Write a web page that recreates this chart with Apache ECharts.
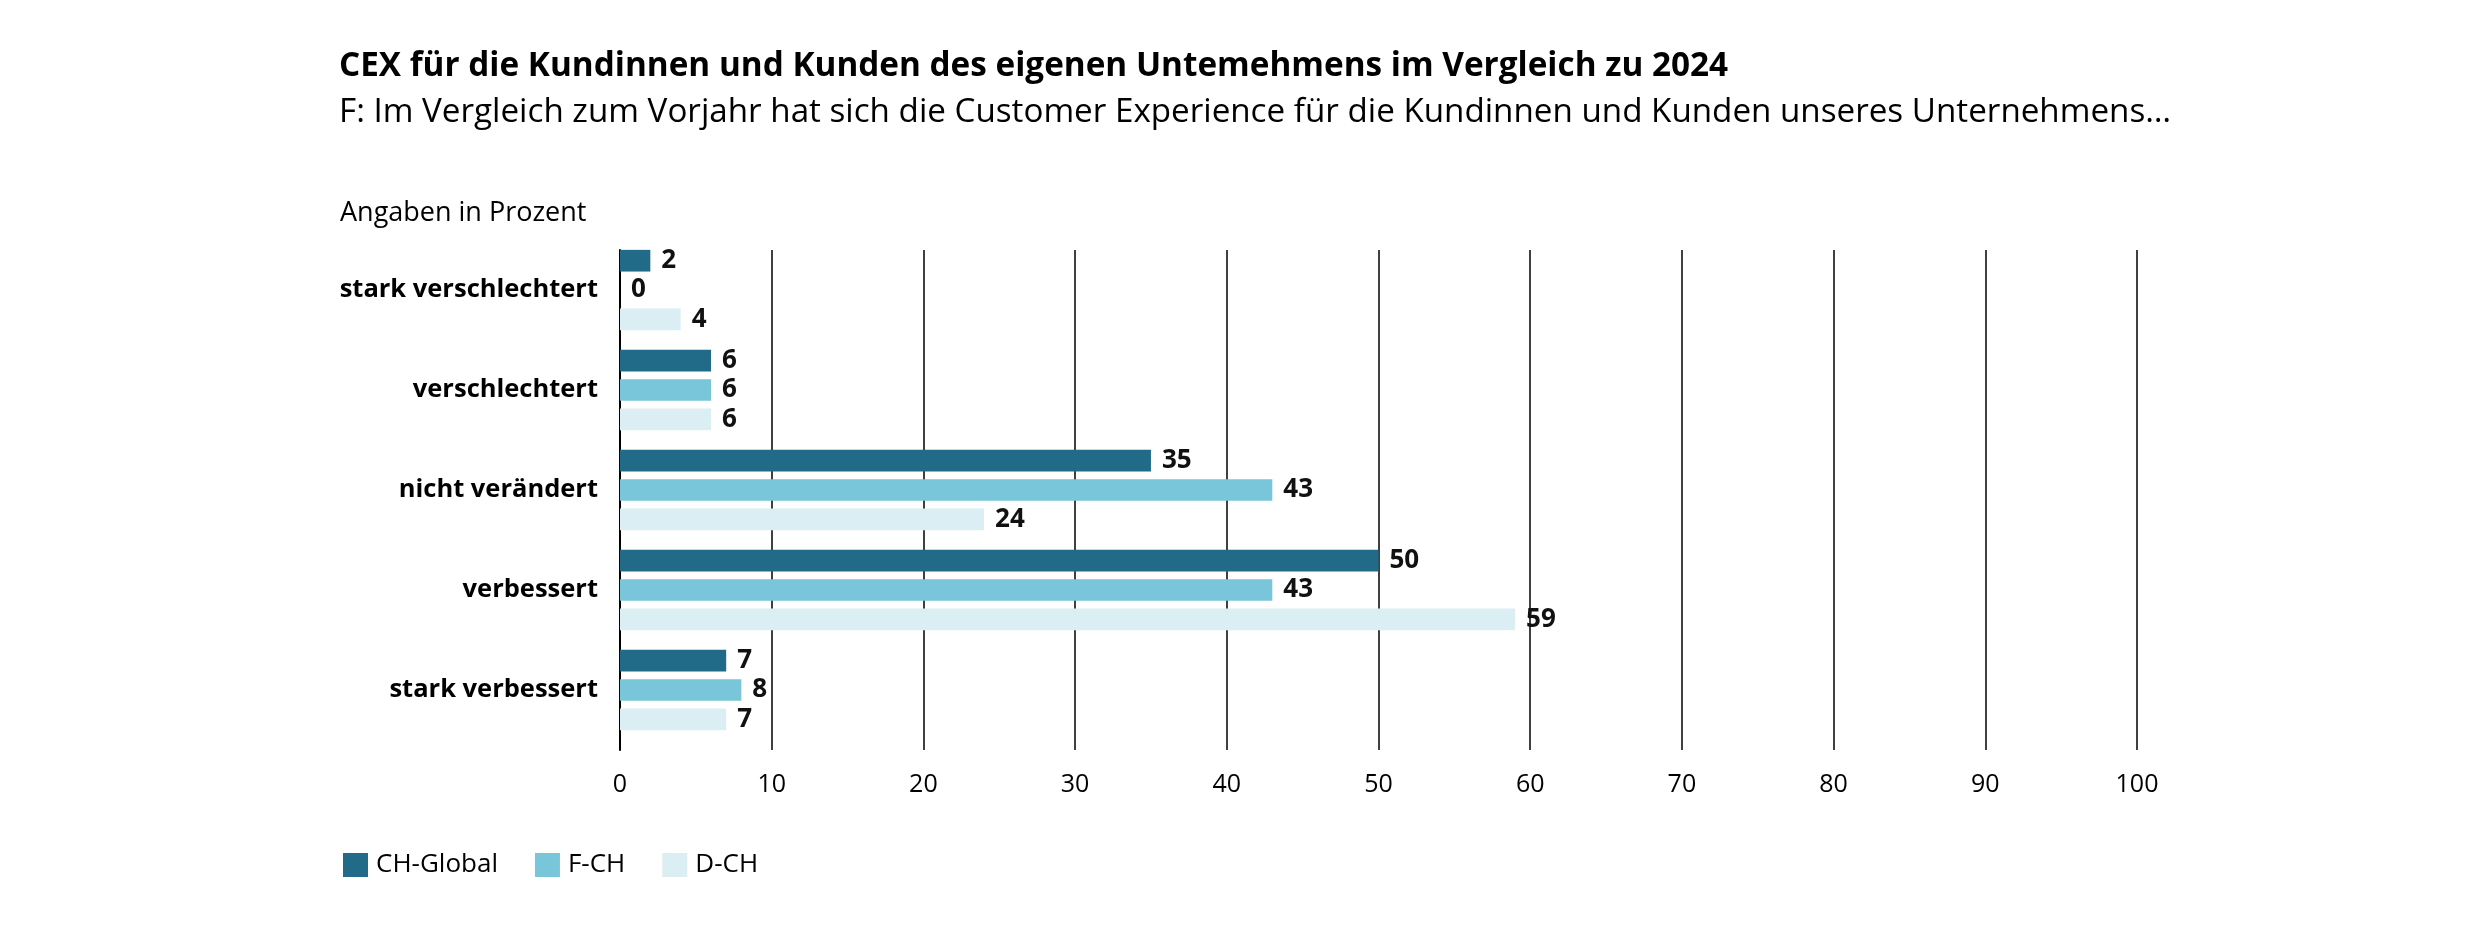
<!DOCTYPE html>
<html>
<head>
<meta charset="utf-8">
<script src="https://cdn.jsdelivr.net/npm/echarts@6/dist/echarts.min.js"></script>
<style>
html,body{margin:0;padding:0;background:#fff;}
#chart{width:2480px;height:950px;}
</style>
</head>
<body>
<div id="chart"></div>
<script>
const categories = ['stark verschlechtert', 'verschlechtert', 'nicht verändert', 'verbessert', 'stark verbessert'];
const seriesNames = ['CH-Global', 'F-CH', 'D-CH'];
const chGlobal = [2, 6, 35, 50, 7];
const fCh = [0, 6, 43, 43, 8];
const dCh = [4, 6, 24, 59, 7];
const colors = ['#216B89', '#79C5D9', '#DBEEF4'];
const titleText = 'CEX für die Kundinnen und Kunden des eigenen Untemehmens im Vergleich zu 2024';
const subtitleText = 'F: Im Vergleich zum Vorjahr hat sich die Customer Experience für die Kundinnen und Kunden unseres Unternehmens…';
const unitText = 'Angaben in Prozent';
const xMin = 0, xMax = 100, xInterval = 10;

const FONT = '"Open Sans", "Noto Sans", sans-serif';
const chart = echarts.init(document.getElementById('chart'), null, {renderer: 'canvas'});

const values = [chGlobal, fCh, dCh];
const series = values.map((v, i) => ({
  name: seriesNames[i],
  type: 'bar',
  xAxisIndex: 0,
  yAxisIndex: 0,
  data: v,
  barWidth: 21.7,
  barGap: '35%',
  itemStyle: {color: colors[i]},
  label: {
    show: true,
    position: 'right',
    distance: 11,
    fontFamily: FONT,
    fontSize: 26,
    fontWeight: 'bold',
    color: '#111'
  }
}));

chart.setOption({
  backgroundColor: '#fff',
  animation: false,
  color: colors,
  textStyle: {fontFamily: FONT},
  title: [
    {text: titleText, left: 334, top: 45, textStyle: {fontFamily: FONT, fontSize: 33.3, fontWeight: 'bold', color: '#000'}},
    {text: subtitleText, left: 334, top: 91, textStyle: {fontFamily: FONT, fontSize: 33.2, fontWeight: 'normal', color: '#000'}},
    {text: unitText, left: 335, top: 195, textStyle: {fontFamily: FONT, fontSize: 27, fontWeight: 'normal', color: '#000'}}
  ],
  legend: {
    data: seriesNames,
    left: 338,
    top: 847,
    icon: 'rect',
    itemWidth: 25,
    itemHeight: 24,
    itemGap: 37,
    textStyle: {fontFamily: FONT, fontSize: 26, color: '#000', padding: [0, 0, 0, 3]}
  },
  grid: [
    {left: 620, right: 343, top: 240, height: 500, containLabel: false},
    {left: 620, right: 343, top: 250, height: 500, containLabel: false}
  ],
  xAxis: [
    {gridIndex: 0, type: 'value', min: xMin, max: xMax, interval: xInterval,
     axisLine: {show: false}, axisTick: {show: false}, axisLabel: {show: false}, splitLine: {show: false}},
    {gridIndex: 1, type: 'value', min: xMin, max: xMax, interval: xInterval, z: 0,
     axisLine: {show: false}, axisTick: {show: false},
     axisLabel: {show: true, fontFamily: FONT, fontSize: 25, color: '#000', margin: 22},
     splitLine: {show: true, lineStyle: {color: '#000', width: 1.5}}}
  ],
  yAxis: [
    {gridIndex: 0, type: 'category', data: categories, inverse: true,
     axisLine: {show: false}, axisTick: {show: false},
     axisLabel: {fontFamily: FONT, fontSize: 25.5, fontWeight: 'bold', color: '#000', margin: 22}},
    {gridIndex: 1, type: 'value', show: true, min: 0, max: 1,
     axisLine: {show: true, lineStyle: {color: '#000', width: 2}}, axisTick: {show: false},
     axisLabel: {show: false}, splitLine: {show: false}}
  ],
  series: series
});
</script>
</body>
</html>
